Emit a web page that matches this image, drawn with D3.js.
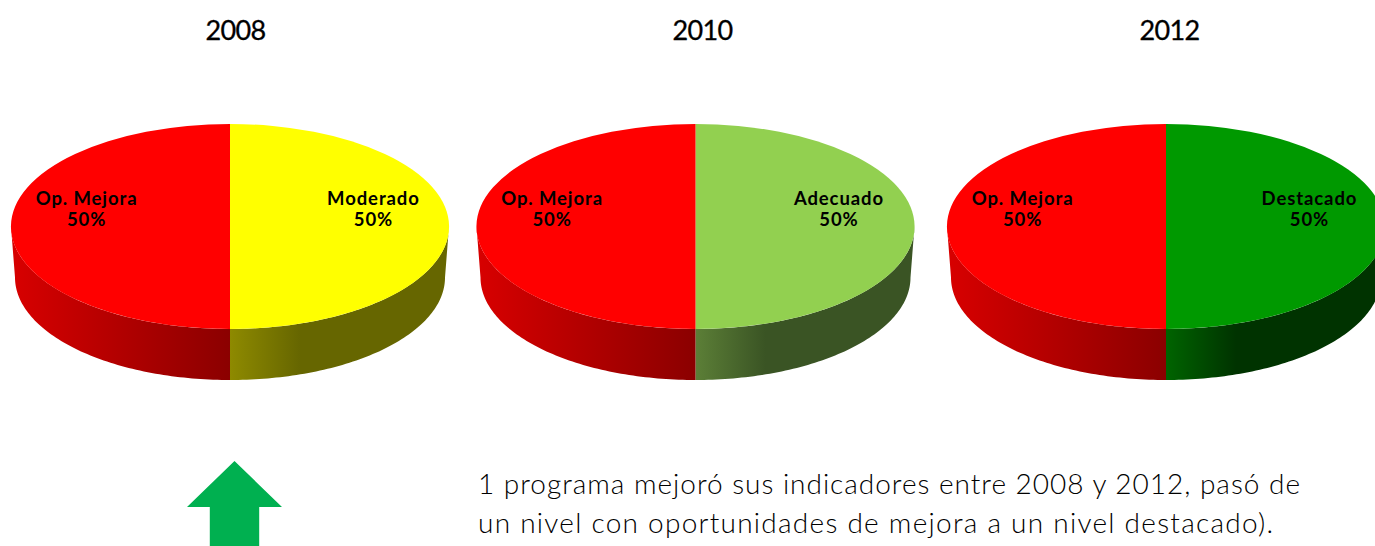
<!DOCTYPE html>
<html><head><meta charset="utf-8">
<script src="https://cdn.jsdelivr.net/npm/d3@7"></script>
<style>html,body{margin:0;padding:0;background:#fff;overflow:hidden}svg{display:block}text{font-family:"Lato",sans-serif;fill:#000}</style>
</head><body><div id="c"></div>
<script>
const years = ["2008","2010","2012"];
const leftLabels = ["Op. Mejora","Op. Mejora","Op. Mejora"];
const rightLabels = ["Moderado","Adecuado","Destacado"];
const leftValues = [50,50,50];
const rightValues = [50,50,50];
const topColors = ["#ffff00","#92d050","#009900"];
const sideStart = ["#8e8a00","#5c7f37","#006400"];
const sideEnd = ["#666600","#3a5424","#003300"];
const redTop = "#ff0000", redSideL = "#d80000", redSideR = "#8b0000";
const centers = [230,695.5,1166];
const noteLines = ["1 programa mejoró sus indicadores entre 2008 y 2012, pasó de","un nivel con oportunidades de mejora a un nivel destacado)."];
const noteWidths = [822,795];

const W=1375,H=546,cy=226.5,rx=219,ry=102.5,depth=51,bottomRx=215;
const svg=d3.select("#c").append("svg").attr("width",W).attr("height",H);
const defs=svg.append("defs");
const pie=d3.pie().sort(null).value(d=>d.v);
const arc=d3.arc().innerRadius(0).outerRadius(rx);
const labelArc=d3.arc().innerRadius(rx*0.655).outerRadius(rx*0.655);
const line=d3.line();

function sidePath(a0,a1){
  const s=Math.max(a0,Math.PI/2), e=Math.min(a1,Math.PI*1.5);
  if(e<=s) return null;
  const ang=d3.range(s,e,(e-s)/80).concat([e]);
  const top=ang.map(a=>[rx*Math.sin(a),-ry*Math.cos(a)]);
  const bot=ang.slice().reverse().map(a=>[bottomRx*Math.sin(a),-ry*Math.cos(a)+depth]);
  return line(top.concat(bot))+"Z";
}

years.forEach((yr,i)=>{
  const cx=centers[i];
  const gR=defs.append("linearGradient").attr("id","sideR"+i).attr("gradientUnits","userSpaceOnUse")
    .attr("x1",0).attr("x2",rx).attr("y1",0).attr("y2",0);
  gR.append("stop").attr("offset",0).attr("stop-color",sideStart[i]);
  gR.append("stop").attr("offset",0.32).attr("stop-color",sideEnd[i]);
  gR.append("stop").attr("offset",1).attr("stop-color",sideEnd[i]);
  const gL=defs.append("linearGradient").attr("id","sideL"+i).attr("gradientUnits","userSpaceOnUse")
    .attr("x1",-rx).attr("x2",0).attr("y1",0).attr("y2",0);
  gL.append("stop").attr("offset",0).attr("stop-color",redSideL);
  gL.append("stop").attr("offset",1).attr("stop-color",redSideR);

  const slices=pie([
    {v:rightValues[i],name:rightLabels[i],fill:topColors[i],side:"url(#sideR"+i+")"},
    {v:leftValues[i],name:leftLabels[i],fill:redTop,side:"url(#sideL"+i+")"}
  ]);
  const g=svg.append("g").attr("transform",`translate(${cx},${cy})`);
  g.selectAll("path.side").data(slices).join("path").attr("class","side")
    .attr("d",d=>sidePath(d.startAngle,d.endAngle)).attr("fill",d=>d.data.side);
  g.append("g").attr("transform",`scale(1,${ry/rx})`).selectAll("path").data(slices).join("path")
    .attr("d",arc).attr("fill",d=>d.data.fill);
  const lab=g.selectAll("text.lab").data(slices).join("text").attr("class","lab")
    .attr("text-anchor","middle").attr("font-weight",700).attr("font-size",18.5).attr("letter-spacing",0.9);
  lab.append("tspan").attr("x",d=>labelArc.centroid(d)[0]).attr("y",-22).text(d=>d.data.name);
  lab.append("tspan").attr("x",d=>labelArc.centroid(d)[0]).attr("y",-1).text(d=>d.value+"%");
  svg.append("text").attr("x",[235.5,702.5,1169.5][i]).attr("y",40).attr("text-anchor","middle")
    .attr("font-size",27).attr("letter-spacing",-0.7).attr("stroke","#000").attr("stroke-width",0.3).text(yr);
});

const ax=d3.scaleLinear().domain([-1,1]).range([187,282]);
const ay=d3.scaleLinear().domain([0,1]).range([461,507]);
svg.append("path").attr("fill","#00b050").attr("d",line([
  [ax(0),ay(0)],[ax(1),ay(1)],[ax(.52),ay(1)],[ax(.52),H],[ax(-.52),H],[ax(-.52),ay(1)],[ax(-1),ay(1)]
])+"Z");

svg.selectAll("text.note").data(noteLines).join("text").attr("class","note")
  .attr("x",478).attr("y",(d,i)=>494+i*39).attr("font-size",28).attr("font-weight",300)
  .attr("textLength",(d,i)=>noteWidths[i]).attr("lengthAdjust","spacing").text(d=>d);
</script></body></html>
